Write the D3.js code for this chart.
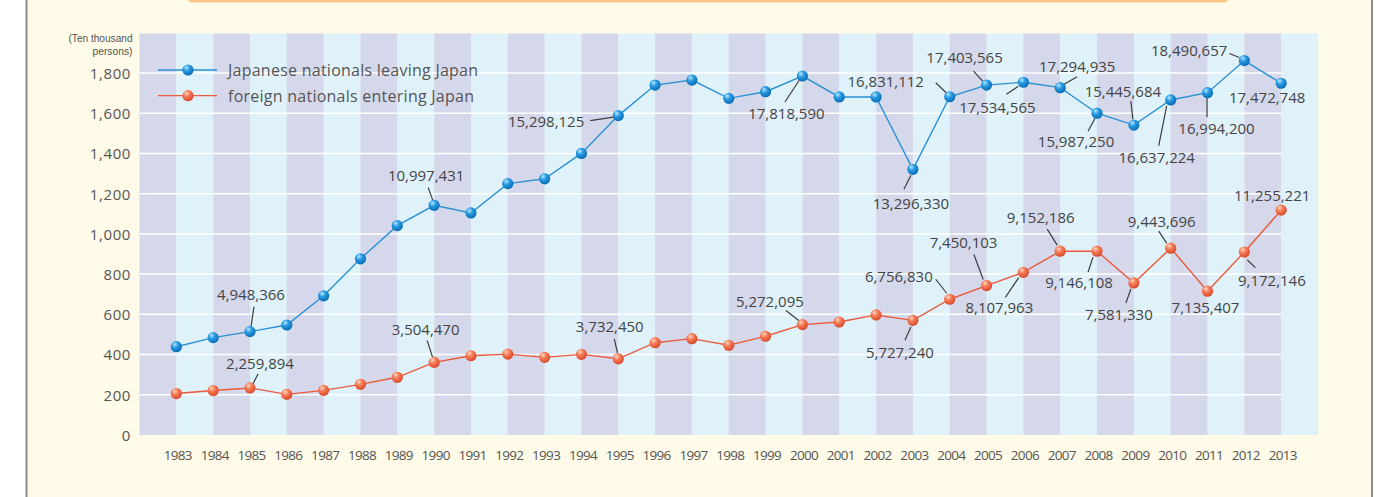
<!DOCTYPE html>
<html>
<head>
<meta charset="utf-8">
<script src="https://cdn.jsdelivr.net/npm/d3@7"></script>
<style>
  html, body { margin: 0; padding: 0; background: #ffffff; }
  svg { display: block; font-family: "Open Sans", "Noto Sans", sans-serif; }
</style>
</head>
<body>
<svg id="chart"></svg>
<script>

// data (ten thousand persons)
var years = [1983, 1984, 1985, 1986, 1987, 1988, 1989, 1990, 1991, 1992, 1993, 1994, 1995, 1996, 1997, 1998,
  1999, 2000, 2001, 2002, 2003, 2004, 2005, 2006, 2007, 2008, 2009, 2010, 2011, 2012, 2013];

var japaneseLeaving = [439, 484, 514, 547, 692, 876, 1041, 1142, 1104, 1250, 1274, 1400, 1588, 1740, 1765, 1674,
  1707, 1785, 1681, 1681, 1321, 1682, 1740, 1754, 1727, 1600, 1541, 1666, 1702, 1862, 1749];

var foreignEntering = [206, 221, 234, 202, 222, 252, 287, 361, 394, 402, 386, 401, 379, 459, 479, 446,
  491, 549, 562, 597, 570, 675, 743, 809, 914, 914, 756, 929, 715, 910, 1118];

var yTicks = [0, 200, 400, 600, 800, 1000, 1200, 1400, 1600, 1800];

var seriesNames = ['Japanese nationals leaving Japan', 'foreign nationals entering Japan'];

var unitLabel = ['(Ten thousand', 'persons)'];

var japaneseCallouts = [
  [1985, '4,948,366'], [1990, '10,997,431'], [1995, '15,298,125'], [2000, '17,818,590'],
  [2003, '13,296,330'], [2004, '16,831,112'], [2005, '17,403,565'], [2006, '17,534,565'],
  [2007, '17,294,935'], [2008, '15,987,250'], [2009, '15,445,684'], [2010, '16,637,224'],
  [2011, '16,994,200'], [2012, '18,490,657'], [2013, '17,472,748']
];

var foreignCallouts = [
  [1985, '2,259,894'], [1990, '3,504,470'], [1995, '3,732,450'], [2000, '5,272,095'],
  [2003, '5,727,240'], [2004, '6,756,830'], [2005, '7,450,103'], [2006, '8,107,963'],
  [2007, '9,152,186'], [2008, '9,146,108'], [2009, '7,581,330'], [2010, '9,443,696'],
  [2011, '7,135,407'], [2012, '9,172,146'], [2013, '11,255,221']
];

// where each callout sits relative to its point: text dx, dy, anchor, leader line
var LAYOUT_J = {
  1985: { t: [1, -32], l: [4, -25, 1, -5] },
  1990: { t: [-8, -24], l: [-6, -18, -1, -4] },
  1995: { t: [-34, 11], a: 'end', l: [-28, 5, -5, 1.5] },
  2000: { t: [-16, 43], l: [-17.5, 26, -2, 2.5] },
  2003: { t: [-2, 40], l: [-9, 20, -2, 6] },
  2004: { t: [-64, -10], l: [-14, -14, -3, -3.5] },
  2005: { t: [-22, -22], l: [-13, -14, -4, -4] },
  2006: { t: [-26, 31], l: [-17, 12, -5, 4] },
  2007: { t: [17, -16], l: [3, -3, 17, -11] },
  2008: { t: [-21, 34], l: [-9, 18, -2, 5] },
  2009: { t: [-11, -28], l: [-3, -24, -1, -6] },
  2010: { t: [-14, 63], l: [-12, 46, -4, 6] },
  2011: { t: [9, 41], l: [-0.5, 4, -0.5, 24.5] },
  2012: { t: [-17, -4.5], a: 'end', l: [-15, -7, -5, -3] },
  2013: { t: [-14, 20] }
};

var LAYOUT_F = {
  1985: { t: [10, -19], l: [8, -14, 3, -4] },
  1990: { t: [-8.5, -27], l: [-7, -22, -1.5, -5] },
  1995: { t: [-8.5, -26.5], l: [-4, -20, -0.7, -5.6] },
  2000: { t: [-32.5, -18], l: [-16.5, -14, -3, -3.6] },
  2003: { t: [-13, 38], l: [-8, 20, -2, 6.7] },
  2004: { t: [-17, -17], a: 'end', l: [-14, -20, -3, -6] },
  2005: { t: [-23, -37.5], l: [-12.7, -31, -3.3, -6] },
  2006: { t: [-24, 41], l: [-18, 25, -4.7, 5.3] },
  2007: { t: [-19.5, -28], l: [-13, -22, -3, -6] },
  2008: { t: [-18, 37], l: [-9, 21, -4, 6] },
  2009: { t: [-15, 37], l: [-8, 20, -3, 6] },
  2010: { t: [-9, -21], l: [-12, -17, -4, -5] },
  2011: { t: [-2, 22] },
  2012: { t: [27.5, 34], l: [3, 8, 11, 15.6] },
  2013: { t: [-9, -9] }
};

var width = 1380;
var height = 497;

var PLOT_LEFT = 139.5;
var PLOT_RIGHT = 1318;
var PLOT_TOP = 33.5;
var PLOT_BOTTOM = 435;

var BLUE = '#2a91d3';
var ORANGE = '#e95a3d';
var TEXT = '#444444';

var svg = d3.select('#chart').attr('width', width).attr('height', height);

// page background, side rules and the box edge at the top
svg.append('rect').attr('x', 27).attr('y', 0).attr('width', 1345).attr('height', height).attr('fill', '#fffbe8');
svg.append('line').attr('x1', 26.5).attr('x2', 26.5).attr('y1', 0).attr('y2', height)
  .attr('stroke', '#8c8c8c').attr('stroke-width', 2);
svg.append('line').attr('x1', 1372).attr('x2', 1372).attr('y1', 0).attr('y2', height)
  .attr('stroke', '#8c8c8c').attr('stroke-width', 2);
svg.append('rect').attr('x', 188).attr('y', -10).attr('width', 1040).attr('height', 12.5).attr('rx', 4)
  .attr('fill', '#fbc587');

var defs = svg.append('defs');
function ball(id, hi, mid, lo){
  var g = defs.append('radialGradient').attr('id', id)
    .attr('cx', '40%').attr('cy', '35%').attr('r', '65%').attr('fx', '35%').attr('fy', '28%');
  g.append('stop').attr('offset', '0%').attr('stop-color', hi);
  g.append('stop').attr('offset', '45%').attr('stop-color', mid);
  g.append('stop').attr('offset', '100%').attr('stop-color', lo);
}
ball('ballBlue', '#b8e6ff', '#279ae2', '#0a6cb3');
ball('ballOrange', '#ffd9c4', '#f57a55', '#d84a2c');

var x = d3.scaleLinear().domain([1982, 2014]).range([PLOT_LEFT, PLOT_RIGHT]);
var y = d3.scaleLinear().domain([0, 1800]).range([PLOT_BOTTOM, 73]);

// stripes
var stripeYears = d3.range(1982, 2014);
svg.append('g').selectAll('rect').data(stripeYears).enter().append('rect')
  .attr('x', function(d){ return x(d); })
  .attr('y', PLOT_TOP)
  .attr('width', function(d){ return x(d + 1) - x(d) + 0.2; })
  .attr('height', PLOT_BOTTOM - PLOT_TOP)
  .attr('fill', function(d, i){ return i % 2 === 0 ? '#d5d8eb' : '#dff2fa'; });

// grid
svg.append('g').selectAll('line').data(yTicks.filter(function(d){ return d > 0; })).enter().append('line')
  .attr('x1', PLOT_LEFT).attr('x2', x(2013))
  .attr('y1', function(d){ return y(d); }).attr('y2', function(d){ return y(d); })
  .attr('stroke', '#ffffff').attr('stroke-width', 1.5);

// y axis labels
var yAxis = d3.axisLeft(y).tickValues(yTicks).tickFormat(d3.format(',')).tickSize(0).tickPadding(0);
var yg = svg.append('g').attr('transform', 'translate(131,0)').call(yAxis);
yg.select('.domain').remove();
yg.selectAll('text').attr('font-size', 15).attr('letter-spacing', 0.6).attr('fill', '#555555')
  .attr('font-family', '"Open Sans", sans-serif').attr('dy', '0.36em');

// unit label
svg.append('g').selectAll('text').data(unitLabel).enter().append('text')
  .attr('x', 132.5).attr('y', function(d, i){ return 42 + i * 13; })
  .attr('text-anchor', 'end').attr('font-size', 11).attr('fill', '#555555')
  .attr('font-family', '"Liberation Sans", sans-serif')
  .attr('textLength', function(d, i){ return i === 0 ? 64 : 40; })
  .attr('lengthAdjust', 'spacingAndGlyphs')
  .text(function(d){ return d; });

// x axis labels
var xAxis = d3.axisBottom(x).tickValues(years).tickFormat(d3.format('d')).tickSize(0).tickPadding(0);
var xg = svg.append('g').attr('transform', 'translate(1,450.5)').call(xAxis);
xg.select('.domain').remove();
xg.selectAll('text').attr('font-size', 13.5).attr('letter-spacing', -0.7).attr('fill', '#555555')
  .attr('font-family', '"Open Sans", sans-serif');

// lines and points
var line = d3.line()
  .x(function(d, i){ return x(years[i]); })
  .y(function(d){ return y(d); });

function drawSeries(values, color, fillId){
  var g = svg.append('g');
  g.append('path').datum(values).attr('d', line)
    .attr('fill', 'none').attr('stroke', color).attr('stroke-width', 1.4);
  g.selectAll('circle').data(values).enter().append('circle')
    .attr('cx', function(d, i){ return x(years[i]); })
    .attr('cy', function(d){ return y(d); })
    .attr('r', 5.6)
    .attr('fill', 'url(#' + fillId + ')');
}

function drawCallouts(callouts, values, layout){
  var g = svg.append('g');
  callouts.forEach(function(c){
    var yr = c[0];
    var px = x(yr);
    var py = y(values[years.indexOf(yr)]);
    var lay = layout[yr];
    if (lay.l) {
      g.append('line')
        .attr('x1', px + lay.l[0]).attr('y1', py + lay.l[1])
        .attr('x2', px + lay.l[2]).attr('y2', py + lay.l[3])
        .attr('stroke', '#3d3d3d').attr('stroke-width', 1.2);
    }
    g.append('text')
      .attr('x', px + lay.t[0]).attr('y', py + lay.t[1])
      .attr('text-anchor', lay.a || 'middle')
      .attr('font-size', 15).attr('fill', TEXT)
      .text(c[1]);
  });
}

drawCallouts(japaneseCallouts, japaneseLeaving, LAYOUT_J);
drawCallouts(foreignCallouts, foreignEntering, LAYOUT_F);
drawSeries(japaneseLeaving, BLUE, 'ballBlue');
drawSeries(foreignEntering, ORANGE, 'ballOrange');

// legend
var legend = svg.append('g').selectAll('g')
  .data([[seriesNames[0], BLUE, 'ballBlue'], [seriesNames[1], ORANGE, 'ballOrange']])
  .enter().append('g')
  .attr('transform', function(d, i){ return 'translate(0,' + (70 + i * 25.7) + ')'; })
  .each(function(d){
    var g = d3.select(this);
    g.append('line').attr('x1', 158).attr('x2', 217).attr('stroke', d[1]).attr('stroke-width', 1.3);
    g.append('circle').attr('cx', 188).attr('r', 5.6).attr('fill', 'url(#' + d[2] + ')');
    g.append('text').attr('x', 228).attr('y', 6).attr('font-size', 16).attr('fill', '#555555')
      .attr('letter-spacing', 0.25).text(d[0]);
  });

</script>
</body>
</html>
